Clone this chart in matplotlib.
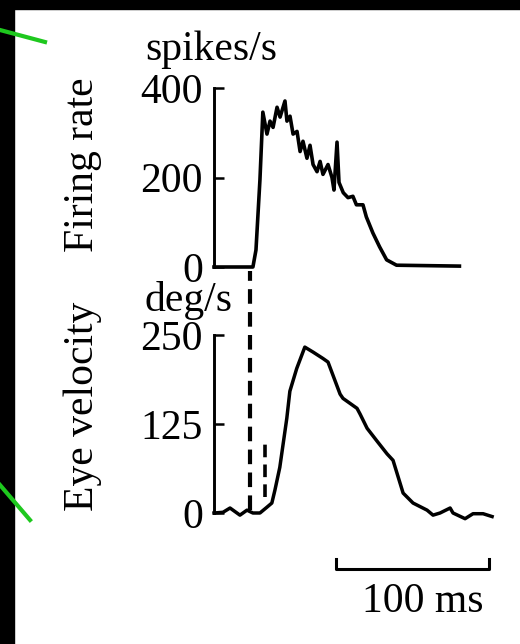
import numpy as np
import matplotlib.pyplot as plt
from matplotlib.patches import Rectangle
from matplotlib.lines import Line2D

plt.rcParams['font.family'] = ['Liberation Serif', 'DejaVu Serif']

# --- datos (tiempo en ms) ---
t_rate = [0, 25.5, 27.5, 30.1, 32.0, 34.7, 36.7, 38.7, 41.3, 43.3, 46.5, 47.8,
          49.8, 51.8, 54.4, 56.4, 58.3, 60.9, 62.9, 64.9, 67.5, 69.5, 71.4,
          74.7, 77.3, 78.6, 80.6, 81.9, 84.7, 87.8, 91.0, 93.3, 97.6, 99.8,
          104.1, 108.5, 113.1, 119.6, 160.8]
rate = [0, 0, 38, 195, 346, 297, 326, 312, 357, 335, 371, 326,
        337, 297, 303, 258, 281, 243, 272, 229, 213, 236, 207,
        229, 200, 172, 279, 189, 166, 155, 158, 139, 139, 112,
        76, 45, 16, 4, 2]

t_eye = [0, 5.9, 10.5, 17.0, 21.6, 25.5, 30.1, 34.6, 37.9, 39.9, 43.1, 47.7,
         49.7, 54.2, 59.5, 64.9, 71.4, 74.7, 82.6, 84.5, 93.7, 95.7, 100.3,
         106.8, 113.4, 117.3, 123.9, 130.4, 139.6, 143.5, 148.1, 154.7, 156.6,
         164.5, 169.7, 176.3, 182.2]
eye = [0, 1, 7, -3, 4, 0, 0, 8, 14, 32, 64, 133,
       171, 203, 233, 226, 217, 212, 167, 161, 147, 139, 119,
       101, 83, 74, 28, 14, 4, -3, 0, 7, 0,
       -8, -1, -1, -5]

rate_ticks = [0, 200, 400]
eye_ticks = [0, 125, 250]

t_onset_rate = 23.5   # linea discontinua larga
t_onset_eye = 33.3    # linea discontinua corta
scale_ms = 100

W, H = 520, 644
fig = plt.figure(figsize=(W / 100, H / 100), dpi=100)
fig.patch.set_facecolor('white')

def fx(px):
    return px / W

def fy(py):
    return 1 - py / H

x0, x1 = 214, 504
ax1 = fig.add_axes([fx(x0), fy(267), fx(x1) - fx(x0), fy(88) - fy(267)])
ax2 = fig.add_axes([fx(x0), fy(513), fx(x1) - fx(x0), fy(335) - fy(513)])

for ax, ticks, top in [(ax1, rate_ticks, 400), (ax2, eye_ticks, 250)]:
    ax.set_xlim(0, 190)
    ax.set_ylim(0, top)
    for s in ['top', 'right', 'bottom']:
        ax.spines[s].set_visible(False)
    ax.spines['left'].set_linewidth(2.1)
    ax.set_xticks([])
    ax.set_yticks(ticks)
    ax.set_yticklabels([str(v) for v in ticks])
    ax.tick_params(axis='y', direction='in', length=7, width=1.8, pad=8,
                   labelsize=30)
    ax.patch.set_alpha(0)

ax1.plot(t_rate, rate, color='black', lw=2.6, clip_on=False)
ax2.plot(t_eye, eye, color='black', lw=2.5, clip_on=False)

# lineas de inicio
ax2.plot([t_onset_rate, t_onset_rate], [4, 340], color='black', lw=3,
         ls=(0, (3.5, 2)), clip_on=False)
ax2.plot([t_onset_eye, t_onset_eye], [22, 97], color='black', lw=2.6,
         ls=(0, (3.5, 2)), clip_on=False)

# barra de escala
ax2.plot([80, 80, 80 + scale_ms, 80 + scale_ms], [-64, -79, -79, -64],
         color='black', lw=2.2, clip_on=False)
ax2.text(137, -124, f'{scale_ms} ms', ha='center', va='center', fontsize=30)

# textos
fig.text(fx(211), fy(60), 'spikes/s', ha='center', va='baseline', fontsize=30)
fig.text(fx(188), fy(311), 'deg/s', ha='center', va='baseline', fontsize=30)
fig.text(fx(83), fy(165), 'Firing rate', rotation=90, ha='center',
         va='center', fontsize=30)
fig.text(fx(83), fy(406), 'Eye velocity', rotation=90, ha='center',
         va='center', fontsize=30)

# marco negro y lineas verdes de la diapositiva
fig.patches.append(Rectangle((0, fy(9)), 1, 1 - fy(9), transform=fig.transFigure,
                             color='black', zorder=5))
fig.patches.append(Rectangle((0, 0), fx(14), 1, transform=fig.transFigure,
                             color='black', zorder=5))
fig.lines.append(Line2D([fx(0), fx(45)], [fy(30), fy(42)], transform=fig.transFigure,
                        color='#1ec81e', lw=3, zorder=6))
fig.lines.append(Line2D([fx(0), fx(30)], [fy(485), fy(520)], transform=fig.transFigure,
                        color='#1ec81e', lw=3, zorder=6))

fig.savefig('out.png', dpi=100)
